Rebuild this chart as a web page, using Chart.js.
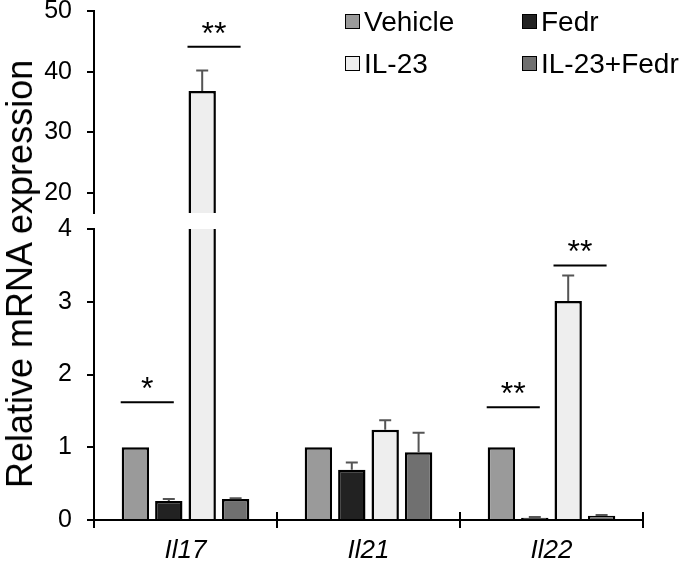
<!DOCTYPE html>
<html>
<head>
<meta charset="utf-8">
<script src="https://cdn.jsdelivr.net/npm/chart.js@4.4.0/dist/chart.umd.min.js"></script>
<style>
  body { margin: 0; background: #fff; }
  #wrap { position: relative; width: 689px; height: 566px; overflow: hidden; font-family: "Liberation Sans", Arial, sans-serif; color: #000; }
  #topCanvas { position: absolute; left: 0; top: 0; }
  #botCanvas { position: absolute; left: 0; top: 215px; }
  #ytitle { position: absolute; left: 20px; top: 274px; transform: translate(-50%, -50%) rotate(-90deg); white-space: nowrap; font-size: 36px; }
  .leg { position: absolute; display: flex; align-items: center; height: 17px; font-size: 28px; white-space: nowrap; }
  .leg .box { width: 13px; height: 13px; border: 1.5px solid #000; margin-right: 4px; }
</style>
</head>
<body>
<div id="wrap">
  <canvas id="topCanvas" width="689" height="215"></canvas>
  <canvas id="botCanvas" width="689" height="351"></canvas>
  <div id="ytitle">Relative mRNA expression</div>
</div>
<script>
// categories and groups
const categories = ['Il17', 'Il21', 'Il22'];
const groups = ['Vehicle', 'Fedr', 'IL-23', 'IL-23+Fedr'];

// mean values per group (one per category)
const vehicle = [1, 1, 1];
const fedr = [0.26, 0.69, 0.03];
const il23 = [36.8, 1.24, 3.01];
const il23Fedr = [0.29, 0.93, 0.06];

// upper error (SEM) per group
const vehicleErr = [0, 0, 0];
const fedrErr = [0.03, 0.10, 0.01];
const il23Err = [3.4, 0.13, 0.35];
const il23FedrErr = [0.01, 0.27, 0.01];

// broken y axis: upper and lower panel ticks
const topTicks = [20, 30, 40, 50];
const bottomTicks = [0, 1, 2, 3, 4];

// significance brackets
const sigCategory = [0, 0, 2, 2];
const sigFrom = [0, 2, 0, 2];
const sigTo = [1, 3, 1, 3];
const sigLevel = [1.62, 44.1, 1.55, 3.5];
const sigText = ['*', '**', '**', '**'];

const seriesValues = [vehicle, fedr, il23, il23Fedr];
const seriesErrors = [vehicleErr, fedrErr, il23Err, il23FedrErr];
const colors = ['#9a9a9a', '#222222', '#eeeeee', '#707070'];
const FONT = '"Liberation Sans", Arial, sans-serif';

// error whiskers (upward only)
const errorBars = {
  id: 'errorBars',
  afterDatasetsDraw(chart) {
    const ctx = chart.ctx, a = chart.chartArea, y = chart.scales.y;
    ctx.save();
    ctx.beginPath();
    ctx.rect(a.left, a.top - 2, a.right - a.left, a.bottom - a.top + 2);
    ctx.clip();
    ctx.strokeStyle = '#555';
    ctx.lineWidth = 2;
    chart.data.datasets.forEach((ds, di) => {
      chart.getDatasetMeta(di).data.forEach((bar, i) => {
        const e = ds.err[i];
        if (!e) return;
        const y0 = y.getPixelForValue(ds.data[i]);
        const y1 = y.getPixelForValue(ds.data[i] + e);
        ctx.beginPath();
        ctx.moveTo(bar.x, y0);
        ctx.lineTo(bar.x, y1);
        ctx.moveTo(bar.x - 6, y1);
        ctx.lineTo(bar.x + 6, y1);
        ctx.stroke();
      });
    });
    ctx.restore();
  }
};

// significance lines + stars
const sigMarks = {
  id: 'sigMarks',
  afterDraw(chart) {
    const ctx = chart.ctx, y = chart.scales.y;
    ctx.save();
    ctx.strokeStyle = '#000';
    ctx.fillStyle = '#000';
    ctx.lineWidth = 2;
    ctx.font = '32px ' + FONT;
    ctx.textAlign = 'center';
    ctx.textBaseline = 'alphabetic';
    sigLevel.forEach((lv, k) => {
      if (lv < y.min || lv > y.max) return;
      const b0 = chart.getDatasetMeta(sigFrom[k]).data[sigCategory[k]];
      const b1 = chart.getDatasetMeta(sigTo[k]).data[sigCategory[k]];
      const x0 = b0.x - b0.width / 2 - 1;
      const x1 = b1.x + 5;
      const py = y.getPixelForValue(lv);
      ctx.beginPath();
      ctx.moveTo(x0, py);
      ctx.lineTo(x1, py);
      ctx.stroke();
      ctx.fillText(sigText[k], (x0 + x1) / 2, py - 3);
    });
    ctx.restore();
  }
};

// small upward ticks at category boundaries on the x axis
const sepTicks = {
  id: 'sepTicks',
  afterDraw(chart) {
    const x = chart.scales.x, a = chart.chartArea, ctx = chart.ctx;
    const half = (a.right - a.left) / categories.length / 2;
    ctx.save();
    ctx.strokeStyle = '#000';
    ctx.lineWidth = 2;
    categories.forEach((c, i) => {
      const px = x.getPixelForValue(i) + half;
      ctx.beginPath();
      ctx.moveTo(px, a.bottom);
      ctx.lineTo(px, a.bottom - 8);
      ctx.stroke();
    });
    ctx.restore();
  }
};

function makeChart(id, yMin, yMax, tickList, showX, pad, extraPlugins) {
  return new Chart(document.getElementById(id), {
    type: 'bar',
    data: {
      labels: categories,
      datasets: groups.map((g, k) => ({
        label: g,
        data: seriesValues[k],
        err: seriesErrors[k],
        backgroundColor: colors[k],
        borderColor: '#000',
        borderWidth: 2.5,
        clip: 0,
        barPercentage: 0.82,
        categoryPercentage: 0.73
      }))
    },
    options: {
      responsive: false,
      animation: false,
      layout: { padding: pad },
      plugins: { legend: { display: false }, tooltip: { enabled: false } },
      scales: {
        x: {
          display: showX,
          grid: { drawOnChartArea: false, color: '#000', lineWidth: 2, tickLength: 8 },
          border: { color: '#000', width: 2 },
          ticks: { color: '#000', padding: 7, font: { family: FONT, size: 26, style: 'italic' } },
          afterFit(s) {
            s.height = showX ? 46 : 0;
            s.paddingLeft = 0;
            s.paddingRight = 0;
          }
        },
        y: {
          min: yMin,
          max: yMax,
          afterBuildTicks(s) { s.ticks = tickList.map(v => ({ value: v })); },
          afterFit(s) { s.width = 94; s.paddingTop = 0; s.paddingBottom = 0; },
          grid: { drawOnChartArea: false, color: '#000', lineWidth: 2, tickLength: 7 },
          border: { color: '#000', width: 2 },
          ticks: { color: '#000', padding: 15, font: { family: FONT, size: 25 } }
        }
      }
    },
    plugins: [errorBars, sigMarks].concat(extraPlugins)
  });
}

makeChart('topCanvas', 16.7, 50, topTicks, false, { top: 11, bottom: 2, left: 0, right: 46 }, []);
makeChart('botCanvas', 0, 4, bottomTicks, true, { top: 14, bottom: 0, left: 0, right: 46 }, [sepTicks]);

// legend, 2 x 2
const wrap = document.getElementById('wrap');
const legendLeft = [345, 522];
const legendTop = [13, 55];
groups.forEach((g, k) => {
  const d = document.createElement('div');
  d.className = 'leg';
  d.style.left = legendLeft[k % 2] + 'px';
  d.style.top = legendTop[Math.floor(k / 2)] + 'px';
  const box = document.createElement('span');
  box.className = 'box';
  box.style.background = colors[k];
  const txt = document.createElement('span');
  txt.textContent = g;
  d.appendChild(box);
  d.appendChild(txt);
  wrap.appendChild(d);
});
</script>
</body>
</html>
